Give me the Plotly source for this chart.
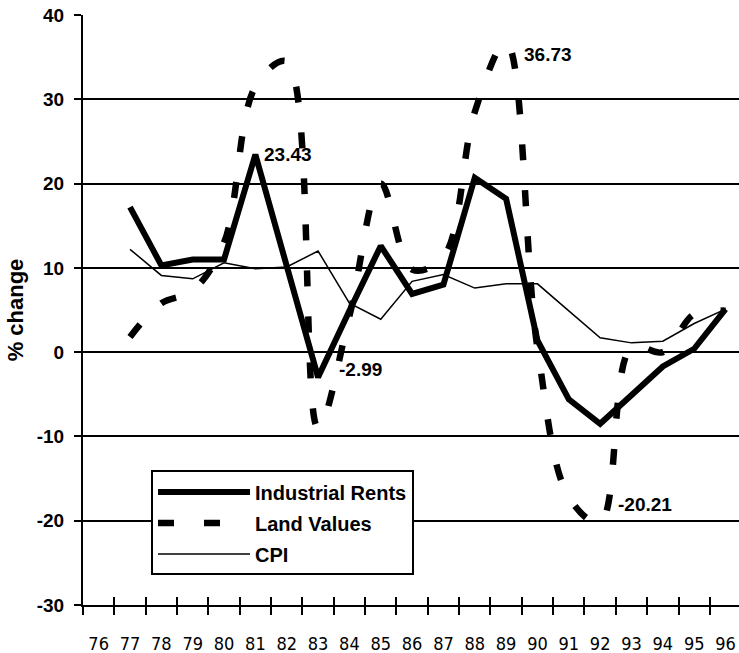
import plotly.graph_objects as go

# Category labels on the x axis (years 1976-1996)
years = ["76", "77", "78", "79", "80", "81", "82", "83", "84", "85", "86",
         "87", "88", "89", "90", "91", "92", "93", "94", "95", "96"]
# Data years (series start in 1977)
data_years = years[1:]

industrial_rents = [17.2, 10.3, 11.0, 11.0, 23.43, 10.2, -2.99, 4.9, 12.6, 6.9,
                    8.0, 20.7, 18.2, 1.4, -5.6, -8.5, -5.2, -1.7, 0.4, 5.1]
land_values = [1.8, 5.8, 7.3, 13.0, 31.5, 34.5, -9.0, 4.3, 20.0, 9.8,
               11.3, 28.5, 36.73, 0.5, -17.2, -20.21, 0.6, 0.0, 4.5, 4.9]
cpi = [12.2, 9.1, 8.7, 10.6, 9.9, 10.1, 12.0, 5.8, 3.9, 8.4,
       9.2, 7.6, 8.1, 8.1, 4.9, 1.7, 1.1, 1.3, 3.4, 5.1]

y_ticks = [-30, -20, -10, 0, 10, 20, 30, 40]
y_tick_text = [str(v) for v in y_ticks]

BOLD = dict(family="Liberation Sans, Arial, sans-serif", color="black", weight="bold")
NARROW = dict(family="Liberation Sans Narrow, Arial Narrow, DejaVu Sans Condensed, Liberation Sans, sans-serif",
              color="black", size=18)

fig = go.Figure()
fig.add_trace(go.Scatter(x=data_years, y=industrial_rents, name="Industrial Rents",
                         mode="lines", legendgroup="a",
                         line=dict(color="black", width=6)))
fig.add_trace(go.Scatter(x=data_years, y=land_values, name="Land Values",
                         mode="lines", legendgroup="b",
                         line=dict(color="black", width=6.5, dash="16px,30px",
                                   shape="spline", smoothing=1.0)))
fig.add_trace(go.Scatter(x=data_years, y=cpi, name="CPI",
                         mode="lines", legendgroup="c",
                         line=dict(color="black", width=1.5)))
# empty helper trace so the overlaid tick axis (x2) is drawn
fig.add_trace(go.Scatter(x=[], y=[], xaxis="x2", yaxis="y", showlegend=False,
                         hoverinfo="skip", mode="lines"))

# Data labels
labels = [
    ("81", industrial_rents, 7, 0),
    ("83", industrial_rents, 19, 8),
    ("89", land_values, 16, -12),
    ("92", land_values, 16, 18),
]
for yr, series, xs, ys in labels:
    v = series[data_years.index(yr)]
    fig.add_annotation(x=years.index(yr), y=v, xref="x", yref="y",
                       text=f"{v:.2f}", showarrow=False,
                       xanchor="left", yanchor="middle", xshift=xs, yshift=ys,
                       font=dict(size=19, **BOLD))

n = len(years)
fig.update_layout(
    width=739, height=653,
    margin=dict(l=83, r=0, t=15, b=48, autoexpand=False),
    paper_bgcolor="white", plot_bgcolor="white",
    showlegend=True,
    legend=dict(x=0.1037, y=0.228, xanchor="left", yanchor="top",
                bgcolor="white", bordercolor="black", borderwidth=2,
                font=dict(size=20, **BOLD), itemwidth=92,
                traceorder="grouped", tracegroupgap=2),
    xaxis=dict(type="category", categoryorder="array", categoryarray=years,
               tickmode="array", tickvals=years, ticktext=years, tickangle=0,
               range=[-0.5, n - 0.57], automargin=False,
               showline=True, linecolor="black", linewidth=2,
               ticks="outside", tickson="boundaries", ticklen=8, tickwidth=2,
               tickcolor="black", showgrid=False, tickfont=NARROW,
               ticklabelstandoff=21),
    xaxis2=dict(overlaying="x", anchor="y", side="bottom", type="linear",
                range=[-0.5, n - 0.57], tickmode="array", automargin=False,
                tickvals=[i + 0.5 for i in range(n)],
                ticks="inside", ticklen=8, tickwidth=2, tickcolor="black",
                showticklabels=False, showgrid=False, showline=False,
                zeroline=False),
    yaxis=dict(range=[-30, 40], tickmode="array", tickvals=y_ticks,
               ticktext=y_tick_text, automargin=False,
               showline=True, linecolor="black", linewidth=2,
               ticks="outside", ticklen=7, tickwidth=2, tickcolor="black",
               showgrid=True, gridcolor="black", gridwidth=1.5,
               zeroline=False, tickfont=dict(size=19, **BOLD),
               ticklabelstandoff=6,
               title=dict(text="% change", font=dict(size=22, **BOLD), standoff=7)),
)

fig.write_html("out.html", config={"displayModeBar": False},
               post_script="document.body.style.margin='0';document.body.style.padding='0';")
